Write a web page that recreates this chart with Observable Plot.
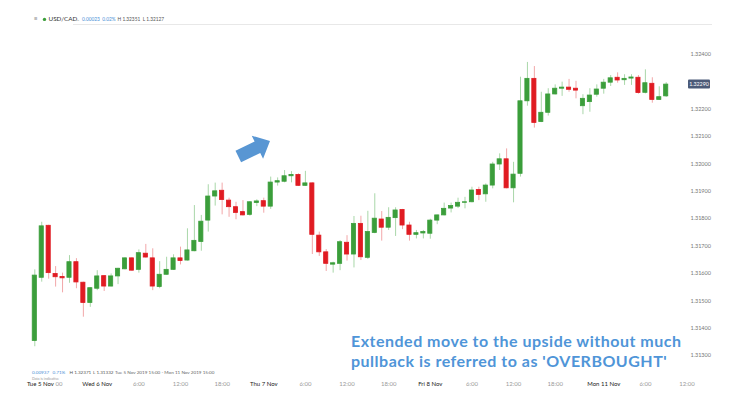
<!DOCTYPE html>
<html>
<head>
<meta charset="utf-8">
<script src="https://cdn.jsdelivr.net/npm/d3@7"></script>
<script src="https://cdn.jsdelivr.net/npm/@observablehq/plot@0.6"></script>
<style>
  body { margin: 0; background: #fff; }
  #chart { width: 742px; height: 417px; overflow: hidden; }
</style>
</head>
<body>
<div id="chart"></div>
<script>
// Hourly USD/CAD candles, Tue 5 Nov 2019 15:00 onwards
const open = [1.31353,1.31584,1.31774,1.31598,1.31587,1.31584,1.31641,1.31566,1.31492,1.31544,
  1.31590,1.31552,1.31589,1.31615,1.31655,1.31613,1.31672,1.31655,1.31550,1.31595,
  1.31613,1.31655,1.31647,1.31681,1.31715,1.31793,1.31881,1.31902,1.31866,1.31842,
  1.31824,1.31814,1.31857,1.31864,1.31844,1.31932,1.31935,1.31955,1.31960,1.31920,
  1.31929,1.31738,1.31677,1.31632,1.31635,1.31712,1.31669,1.31781,1.31657,1.31748,
  1.31797,1.31767,1.31802,1.31832,1.31775,1.31741,1.31746,1.31745,1.31793,1.31812,
  1.31837,1.31844,1.31858,1.31860,1.31905,1.31889,1.31921,1.31998,1.32017,1.31911,
  1.31964,1.32229,1.32311,1.32153,1.32187,1.32254,1.32275,1.32279,1.32275,1.32211,
  1.32226,1.32253,1.32275,1.32297,1.32315,1.32306,1.32312,1.32315,1.32260,1.32293,
  1.32234,1.32247];
const high = [1.31613,1.31787,1.31776,1.31625,1.31601,1.31665,1.31654,1.31568,1.31548,1.31610,
  1.31592,1.31598,1.31619,1.31657,1.31657,1.31686,1.31706,1.31690,1.31643,1.31659,
  1.31668,1.31696,1.31763,1.31848,1.31812,1.31924,1.31930,1.31930,1.31875,1.31860,
  1.31866,1.31862,1.31869,1.31875,1.31952,1.31949,1.31976,1.31972,1.31964,1.31973,
  1.31931,1.31751,1.31687,1.31641,1.31720,1.31738,1.31808,1.31809,1.31827,1.31891,
  1.31826,1.31840,1.31840,1.31834,1.31787,1.31757,1.31757,1.31798,1.31813,1.31857,
  1.31857,1.31875,1.31878,1.31915,1.31915,1.31927,1.32006,1.32037,1.32055,1.32006,
  1.32317,1.32371,1.32356,1.32262,1.32275,1.32289,1.32299,1.32309,1.32302,1.32253,
  1.32275,1.32289,1.32309,1.32323,1.32333,1.32326,1.32326,1.32323,1.32344,1.32315,
  1.32282,1.32297];
const low = [1.31332,1.31568,1.31579,1.31550,1.31529,1.31564,1.31544,1.31440,1.31476,1.31537,
  1.31534,1.31550,1.31559,1.31613,1.31608,1.31601,1.31656,1.31537,1.31544,1.31593,
  1.31611,1.31631,1.31645,1.31679,1.31681,1.31751,1.31846,1.31814,1.31805,1.31796,
  1.31810,1.31809,1.31844,1.31820,1.31834,1.31919,1.31931,1.31931,1.31918,1.31918,
  1.31669,1.31662,1.31607,1.31601,1.31610,1.31645,1.31620,1.31647,1.31651,1.31745,
  1.31718,1.31757,1.31735,1.31760,1.31718,1.31726,1.31726,1.31725,1.31778,1.31810,
  1.31821,1.31837,1.31836,1.31858,1.31866,1.31860,1.31909,1.31976,1.31909,1.31858,
  1.31952,1.32211,1.32131,1.32151,1.32175,1.32252,1.32247,1.32262,1.32238,1.32180,
  1.32189,1.32244,1.32255,1.32283,1.32295,1.32287,1.32287,1.32255,1.32256,1.32222,
  1.32232,1.32243];
const close = [1.31592,1.31772,1.31601,1.31586,1.31582,1.31641,1.31567,1.31492,1.31546,1.31589,
  1.31552,1.31589,1.31617,1.31655,1.31610,1.31674,1.31658,1.31552,1.31595,1.31613,
  1.31655,1.31645,1.31684,1.31719,1.31789,1.31881,1.31900,1.31868,1.31842,1.31821,
  1.31812,1.31860,1.31863,1.31844,1.31932,1.31937,1.31955,1.31960,1.31920,1.31929,
  1.31741,1.31677,1.31635,1.31637,1.31714,1.31669,1.31781,1.31659,1.31751,1.31800,
  1.31767,1.31803,1.31830,1.31775,1.31741,1.31747,1.31751,1.31793,1.31812,1.31836,
  1.31846,1.31858,1.31860,1.31903,1.31887,1.31921,1.31998,1.32017,1.31911,1.31961,
  1.32229,1.32311,1.32150,1.32187,1.32254,1.32275,1.32279,1.32271,1.32268,1.32238,
  1.32250,1.32272,1.32297,1.32313,1.32305,1.32311,1.32316,1.32259,1.32295,1.32234,
  1.32244,1.32290];

// price axis ticks (1.32300 is hidden behind the current-price box)
const yTicks = [1.313,1.314,1.315,1.316,1.317,1.318,1.319,1.320,1.321,1.322,1.324];

// time axis labels (position = candle index)
const dayTicks = [
  {i: 0.8, label: "Tue 5 Nov"}, {i: 9, label: "Wed 6 Nov"}, {i: 33, label: "Thu 7 Nov"},
  {i: 57, label: "Fri 8 Nov"}, {i: 82, label: "Mon 11 Nov"}];
const hourTicks = [
  {i: 3.5, label: "00"}, {i: 15, label: "6:00"}, {i: 21, label: "12:00"}, {i: 27, label: "18:00"},
  {i: 39, label: "6:00"}, {i: 45, label: "12:00"}, {i: 51, label: "18:00"},
  {i: 63, label: "6:00"}, {i: 69, label: "12:00"}, {i: 75, label: "18:00"},
  {i: 88, label: "6:00"}, {i: 94, label: "12:00"}];

// header / footer texts
const symbol = "USD/CAD";
const headerChange = "0.00023  0.02%";
const headerHL = "H 1.32351  L 1.32127";
const periodLabel = "Tue 5 Nov 2019 15:00 - Mon 11 Nov 2019 15:00";
const noteText = "Data is indicative";
const annotationLines = ["Extended move to the upside without much", "pullback is referred to as 'OVERBOUGHT'"];
const arrowAnchor = {i: 29.4, price: 1.32025};

const UP = "#3b9e3b", DOWN = "#e01b22", WICK_UP = "#a9d7a9", WICK_DOWN = "#f2a7a9";
const BLUE = "#4f95d8";

const candles = open.map((o, k) => ({i: k, o, h: high[k], l: low[k], c: close[k], up: close[k] >= o}));

const plot = Plot.plot({
  width: 742, height: 417,
  marginTop: 0, marginRight: 54, marginBottom: 37, marginLeft: 0,
  style: {background: "#fff", fontFamily: "Lato, 'Open Sans', sans-serif"},
  x: {type: "linear", domain: [0, 91], range: [34.3, 665.7], axis: null},
  y: {type: "linear", domain: [1.313, 1.324], range: [355, 54], axis: null},
  marks: [
    Plot.ruleX(candles, {x: "i", y1: "l", y2: "h", stroke: d => d.up ? WICK_UP : WICK_DOWN, strokeWidth: 1}),
    Plot.rect(candles, {
      x1: d => d.i - 0.3, x2: d => d.i + 0.3,
      y1: d => Math.min(d.o, d.c), y2: d => Math.max(d.o, d.c),
      fill: d => d.up ? UP : DOWN, stroke: d => d.up ? UP : DOWN, strokeWidth: 0.8
    }),
    Plot.axisY({anchor: "right", ticks: yTicks, tickSize: 0, tickPadding: 2,
      tickFormat: d => d.toFixed(5), fontSize: 5.5, color: "#777", label: null}),
    Plot.text(dayTicks, {x: "i", text: "label", frameAnchor: "bottom", dy: 5, fontSize: 6, fill: "#222"}),
    Plot.text(hourTicks, {x: "i", text: "label", frameAnchor: "bottom", dy: 5, fontSize: 6, fill: "#9a9a9a"})
  ]
});

document.getElementById("chart").appendChild(plot);

const svg = d3.select(plot);
const xs = plot.scale("x"), ys = plot.scale("y");
const font = "Lato, 'Open Sans', sans-serif";

// current price box
const last = close[close.length - 1];
const yl = ys.apply(last);
svg.append("rect").attr("x", 688).attr("y", yl - 4.5).attr("width", 22).attr("height", 9)
  .attr("rx", 1).attr("fill", "#4b5a78");
svg.append("text").attr("x", 699).attr("y", yl).attr("dy", "0.35em").attr("text-anchor", "middle")
  .attr("font-size", 5.3).attr("font-family", font).attr("fill", "#fff").text(last.toFixed(5));

// header
const hdrY = 21.3;
svg.append("line").attr("x1", 73).attr("x2", 712).attr("y1", 24.5).attr("y2", 24.5)
  .attr("stroke", "#e2e2e2").attr("stroke-width", 0.8);
const addText = (x, y, txt, size, fill, weight) => svg.append("text").attr("x", x).attr("y", y)
  .attr("text-anchor", "start")
  .attr("font-size", size).attr("font-family", font).attr("fill", fill)
  .attr("font-weight", weight || "normal").style("white-space", "pre").text(txt);
addText(34, hdrY, "\u2261", 6.5, "#8a8a8a");
svg.append("circle").attr("cx", 44.5).attr("cy", 19.4).attr("r", 1.7).attr("fill", UP);
addText(48.5, hdrY, symbol, 6.3, "#333");
addText(76, hdrY - 0.5, "\u2304", 5, "#999");
addText(82, hdrY, headerChange, 4.8, "#4a8fd6");
addText(117.5, hdrY, headerHL, 4.8, "#555");

// footer info line
const first = open[0];
const chg = last - first;
const infoY = 374;
addText(32, infoY, chg.toFixed(5), 4.6, "#4a8fd6");
addText(52.5, infoY, (chg / first * 100).toFixed(2) + "%", 4.6, "#4a8fd6");
addText(69.5, infoY, "H " + d3.max(high).toFixed(5), 4.6, "#555");
addText(93, infoY, "L " + d3.min(low).toFixed(5), 4.6, "#555");
addText(115, infoY, periodLabel, 4.6, "#666");
addText(32, 380, noteText, 3.6, "#999");

// annotation text, two lines
annotationLines.forEach((line, k) => {
  addText(351, 347.2 + k * 19.4, line, 16, BLUE, "bold").attr("letter-spacing", 0.5);
});

// block arrow anchored at a data point
const ax = xs.apply(arrowAnchor.i), ay = ys.apply(arrowAnchor.price);
const ux = 0.898, uy = -0.439, nx = 0.439, ny = 0.898;
const P = (s, t) => [ax + s * ux + t * nx, ay + s * uy + t * ny];
const pts = [P(0, -6.4), P(21.3, -6.4), P(21.3, -12.9), P(35.3, 0), P(21.3, 12.9), P(21.3, 6.4), P(0, 6.4)];
svg.append("polygon").attr("points", pts.map(p => p.join(",")).join(" ")).attr("fill", "#5896d3");
</script>
</body>
</html>
